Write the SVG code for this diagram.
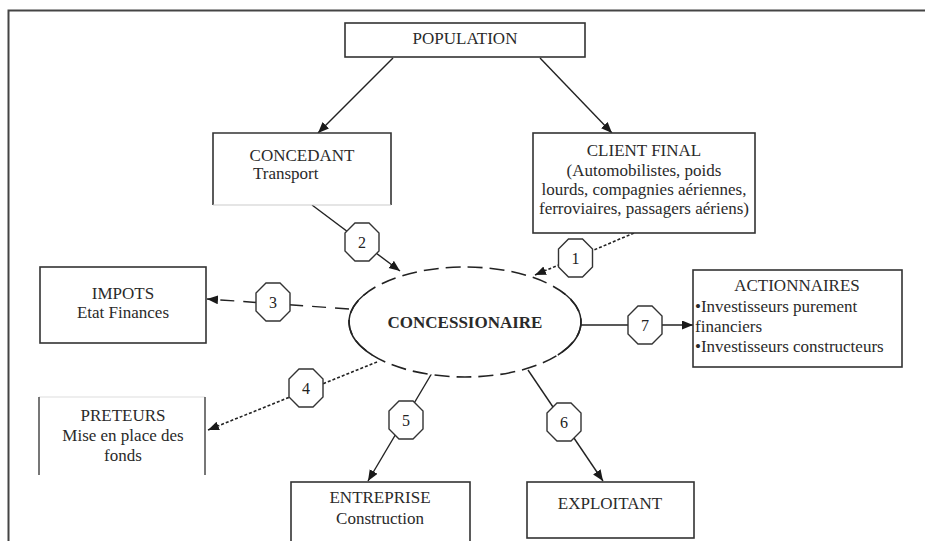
<svg xmlns="http://www.w3.org/2000/svg" width="925" height="541" viewBox="0 0 925 541">
<defs>
<marker id="ah" markerUnits="userSpaceOnUse" markerWidth="12" markerHeight="10" refX="11" refY="4.5" orient="auto">
<path d="M0,0 L11,4.5 L0,9 z" fill="#1a1a1a"/>
</marker>
<path id="oct" d="M-7,-19 L7,-19 L17,-9 L17,9 L7,19 L-7,19 L-17,9 L-17,-9 Z"/>
</defs>
<style>
.box{fill:#fff;stroke:#333;stroke-width:1.6}
.t{font-family:"Liberation Serif","Times New Roman",serif;font-size:17px;fill:#2a2a2a}
.c{text-anchor:middle}
.ln{stroke:#222;stroke-width:1.4;fill:none}
.dot{stroke-dasharray:3 2;stroke-width:1.6}
.dash{stroke-dasharray:14 9}
.oc{fill:#fff;stroke:#333;stroke-width:1.4}
.n{font-family:"Liberation Serif","Times New Roman",serif;font-size:16px;fill:#222;text-anchor:middle}
</style>
<rect width="925" height="541" fill="#fff"/>
<path d="M8.5,560 L8.5,10.5 L940,10.5" fill="none" stroke="#444" stroke-width="2"/>

<g id="connectors">
<line class="ln" x1="393" y1="58" x2="318" y2="133" marker-end="url(#ah)"/>
<line class="ln" x1="540" y1="58" x2="612" y2="133" marker-end="url(#ah)"/>
<line class="ln" x1="312" y1="205" x2="400" y2="271" marker-end="url(#ah)"/>
<line class="ln dot" x1="634" y1="233" x2="535" y2="275" marker-end="url(#ah)"/>
<line class="ln dash" x1="349" y1="309" x2="207" y2="299" marker-end="url(#ah)"/>
<line class="ln" x1="581" y1="325" x2="693" y2="325" marker-end="url(#ah)"/>
<line class="ln dot" x1="377" y1="362" x2="208" y2="430" marker-end="url(#ah)"/>
<line class="ln" x1="432" y1="373" x2="368" y2="481" marker-end="url(#ah)"/>
<line class="ln" x1="528" y1="370" x2="603" y2="481" marker-end="url(#ah)"/>
<g id="oct1"><use href="#oct" class="oc" x="575.5" y="258"/><text class="n" x="575.5" y="264">1</text></g>
<g id="oct2"><use href="#oct" class="oc" x="362" y="242"/><text class="n" x="362" y="248">2</text></g>
<g id="oct3"><use href="#oct" class="oc" x="273" y="302"/><text class="n" x="273" y="308">3</text></g>
<g id="oct4"><use href="#oct" class="oc" x="306" y="388"/><text class="n" x="306" y="394">4</text></g>
<g id="oct5"><use href="#oct" class="oc" x="406" y="420"/><text class="n" x="406" y="426">5</text></g>
<g id="oct6"><use href="#oct" class="oc" x="564" y="422"/><text class="n" x="564" y="428">6</text></g>
<g id="oct7"><use href="#oct" class="oc" x="645" y="325"/><text class="n" x="645" y="331">7</text></g>
</g>

<g id="population">
<rect class="box" x="345" y="23" width="240" height="34"/>
<text class="t c" x="465" y="44">POPULATION</text>
</g>

<g id="concedant">
<path d="M213,205 L213,133 L391,133 L391,205" fill="#fff" stroke="#333" stroke-width="1.6"/>
<line x1="213" y1="205" x2="391" y2="205" stroke="#ccc" stroke-width="1.2"/>
<text class="t c" x="302" y="161">CONCEDANT</text>
<text class="t" x="253" y="179">Transport</text>
</g>

<g id="client">
<rect class="box" x="533" y="133" width="222" height="100"/>
<text class="t c" x="644" y="156">CLIENT FINAL</text>
<text class="t c" x="644" y="176">(Automobilistes, poids</text>
<text class="t c" x="644" y="195">lourds, compagnies aériennes,</text>
<text class="t c" x="644" y="214">ferroviaires, passagers aériens)</text>
</g>

<g id="concessionaire">
<ellipse cx="465" cy="322" rx="116" ry="55" fill="#fff" stroke="#222" stroke-width="1.6" stroke-dasharray="15 7"/>
<path d="M367.8,292 A116,55 0 0,0 372.2,355" fill="none" stroke="#222" stroke-width="1.5"/>
<path d="M562.2,292 A116,55 0 0,1 557.8,355" fill="none" stroke="#222" stroke-width="1.5"/>
<text class="t c" x="465" y="328" font-weight="bold">CONCESSIONAIRE</text>
</g>

<g id="impots">
<rect class="box" x="40" y="267" width="166" height="76"/>
<text class="t c" x="123" y="299">IMPOTS</text>
<text class="t c" x="123" y="318">Etat Finances</text>
</g>

<g id="actionnaires">
<rect class="box" x="693" y="270" width="209" height="97"/>
<text class="t c" x="797" y="291">ACTIONNAIRES</text>
<text class="t" x="695" y="312">•Investisseurs purement</text>
<text class="t" x="695" y="332">financiers</text>
<text class="t" x="695" y="352">•Investisseurs constructeurs</text>
</g>

<g id="preteurs">
<line x1="39" y1="397" x2="205" y2="397" stroke="#ddd" stroke-width="1.2"/>
<line x1="39" y1="397" x2="39" y2="475" stroke="#555" stroke-width="1.6"/>
<line x1="205" y1="397" x2="205" y2="475" stroke="#555" stroke-width="1.6"/>
<text class="t c" x="123" y="421">PRETEURS</text>
<text class="t c" x="123" y="441">Mise en place des</text>
<text class="t c" x="123" y="461">fonds</text>
</g>

<g id="entreprise">
<rect class="box" x="291" y="482" width="179" height="70"/>
<text class="t c" x="380" y="503">ENTREPRISE</text>
<text class="t c" x="380" y="524">Construction</text>
</g>

<g id="exploitant">
<rect class="box" x="527" y="482" width="167" height="56"/>
<text class="t c" x="610" y="509">EXPLOITANT</text>
</g>
</svg>
